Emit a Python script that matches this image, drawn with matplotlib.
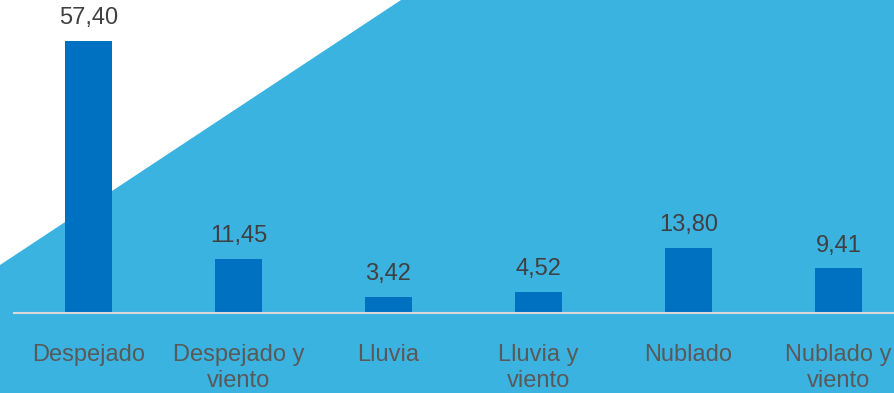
import matplotlib
matplotlib.use("Agg")
import matplotlib.pyplot as plt
from matplotlib.patches import Polygon

categories = ["Despejado", "Despejado y\nviento", "Lluvia", "Lluvia y\nviento",
              "Nublado", "Nublado y\nviento"]
values = [57.40, 11.45, 3.42, 4.52, 13.80, 9.41]
value_labels = ["57,40", "11,45", "3,42", "4,52", "13,80", "9,41"]

plt.rcParams["font.family"] = ["Liberation Sans", "DejaVu Sans"]

W, H = 894, 393
fig = plt.figure(figsize=(W / 100, H / 100), dpi=100)
fig.patch.set_facecolor("white")

# light blue backdrop with a diagonal cut in the upper-left corner
bg = Polygon([(0, 0), (0, 128 / H), (401 / W, 1), (1, 1), (1, 0)],
             closed=True, transform=fig.transFigure, facecolor="#3BB3E1",
             edgecolor="none", zorder=-10)
fig.patches.append(bg)

ax = fig.add_axes([13.5 / W, 80 / H, 900 / W, 313 / H])
ax.set_zorder(1)
ax.set_facecolor("none")
x = list(range(len(categories)))
ax.bar(x, values, width=47 / 150, color="#0070C0", zorder=2)
ax.set_xlim(-0.5, len(categories) - 0.5)
ax.set_ylim(0, 313 / 4.739)

for xi, v, lab in zip(x, values, value_labels):
    ax.annotate(lab, (xi, v), xytext=(0, 8.5), textcoords="offset points",
                ha="center", va="bottom", fontsize=17, color="#404040")

ax.set_xticks(x)
ax.set_xticklabels(categories, fontsize=17, color="#595959", linespacing=1.24)
ax.tick_params(axis="x", length=0, pad=22)
ax.set_yticks([])
for s in ["top", "right", "left"]:
    ax.spines[s].set_visible(False)
ax.spines["bottom"].set_color("#D9D9D9")
ax.spines["bottom"].set_linewidth(1.5)

fig.savefig("out.png", dpi=100)
